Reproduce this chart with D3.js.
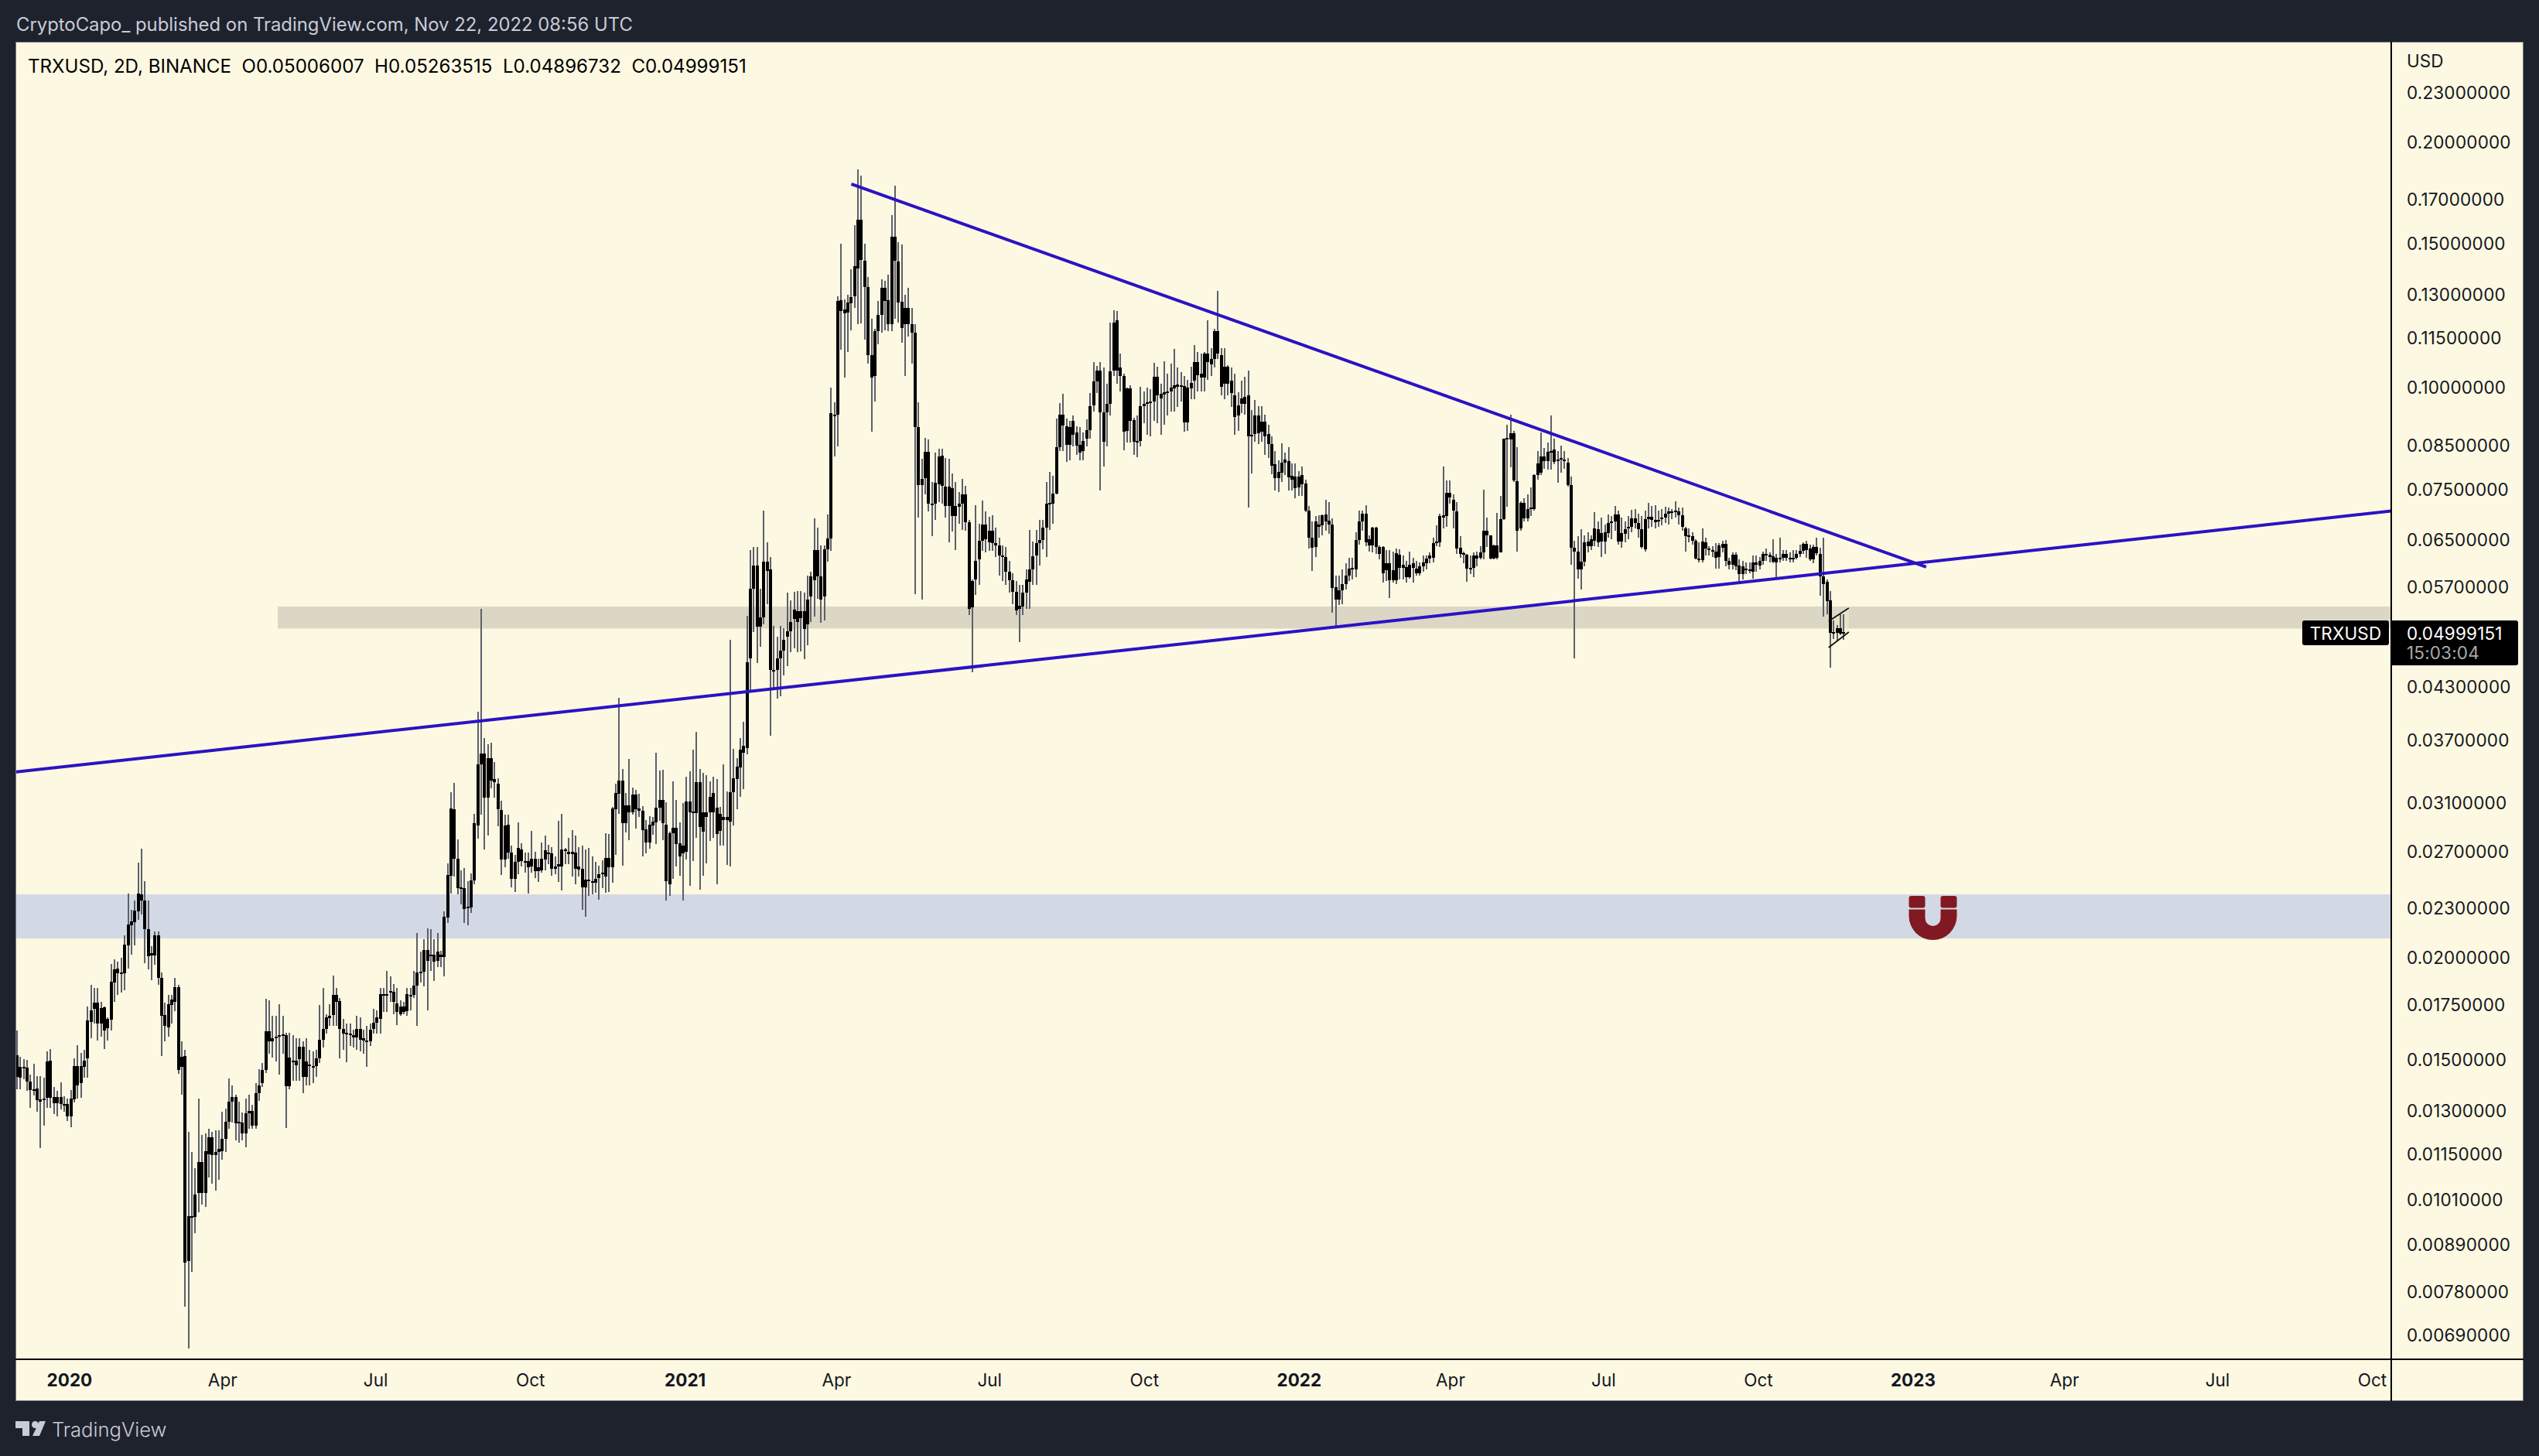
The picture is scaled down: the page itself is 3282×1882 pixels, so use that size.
<!DOCTYPE html>
<html>
<head>
<meta charset="utf-8">
<script src="https://cdn.jsdelivr.net/npm/d3@7"></script>
<style>
html, body { margin: 0; padding: 0; background: #1e222d; overflow: hidden; }
svg { display: block; font-family: Inter, "Liberation Sans", sans-serif; }
</style>
</head>
<body>
<svg id="chart" width="3282" height="1882"></svg>
<script>
// DATA
// 2D bars. One row = [body top, body bottom, high, low], in 1e-5 USD.
// Every candle is black, so open and close can't be told apart.
var barsDec2019 = [
[1518,1428,1627,1380],[1468,1424,1511,1380],[1468,1463,1501,1418],[1465,1410,1498,1373],[1410,1376,1436,1309],[1380,1377,1482,1355],[1383,1338,1430,1293],[1340,1330,1430,1169],
[1343,1338,1425,1244],[1491,1346,1534,1307],[1493,1346,1544,1309],[1348,1326,1388,1286],[1348,1326,1373,1278],[1348,1324,1405,1303],[1324,1316,1353,1293],[1322,1277,1343,1261],
[1343,1277,1376,1239],[1471,1341,1504,1328],[1471,1395,1562,1343],[1471,1403,1526,1346],[1495,1470,1542,1423],[1674,1503,1743,1425],[1723,1668,1853,1594],[1761,1731,1837,1658],
[1761,1660,1837,1582],[1733,1660,1764,1600],[1738,1629,1743,1545],[1680,1639,1689,1582],[1868,1679,1965,1626],[1933,1864,1991,1764],[1937,1911,1976,1799],[1915,1910,1998,1810],
[2074,1914,2130,1823],[2195,2071,2395,1937],[2213,2190,2288,2017],[2285,2210,2349,2069],[2395,2277,2614,2225],[2390,2349,2721,2258],[2351,2168,2480,1969],[2168,2009,2351,1935],
[2024,2011,2063,1877],[2130,2012,2151,1961],[2130,1887,2151,1851],[1887,1698,1915,1515],[1699,1650,1761,1577],[1752,1643,1799,1598],[1777,1749,1799,1658],[1840,1766,1888,1717],
[1840,1457,1851,1439],[1511,1468,1579,1358],[1515,846,1542,747],[964,849,1223,663],[964,961,1155,824],[1024,961,1103,919],[1122,1030,1342,975],[1122,1030,1213,996],
[1157,1030,1217,989],[1203,1148,1233,1074],[1203,1145,1223,1057],[1155,1145,1227,1035],[1164,1155,1227,1068],[1200,1158,1294,1130],[1259,1200,1306,1155],[1332,1259,1420,1233],
[1350,1332,1395,1255],[1350,1252,1357,1194],[1259,1252,1332,1187],[1255,1217,1291,1194],[1289,1217,1342,1171],[1296,1289,1357,1233],[1296,1245,1321,1233],[1364,1245,1403,1233],
[1395,1364,1460,1335],[1457,1403,1484,1387],[1623,1457,1778,1444],[1623,1577,1774,1525],[1592,1577,1696,1509],[1601,1592,1696,1492],[1605,1599,1753,1436],[1610,1607,1696,1525],
[1605,1392,1617,1237],[1509,1392,1617,1379],[1495,1489,1605,1411],[1495,1476,1592,1411],[1555,1500,1592,1411],[1555,1427,1577,1364],[1490,1427,1592,1395],[1479,1476,1541,1395],
[1473,1468,1533,1403],[1505,1473,1541,1427],[1586,1505,1749,1484],[1635,1586,1835,1550],[1690,1635,1705,1614],[1696,1687,1753,1650],[1800,1701,1902,1650],[1800,1764,1835,1650],
[1770,1635,1784,1505],[1635,1614,1683,1541],[1618,1614,1659,1489],[1614,1610,1659,1559],[1605,1596,1632,1550],[1635,1596,1696,1541],[1635,1586,1690,1533],[1592,1581,1632,1525],
[1583,1577,1650,1468],[1632,1577,1659,1559],[1665,1635,1729,1614],[1690,1665,1723,1614],[1804,1683,1835,1614],[1804,1794,1835,1714],[1804,1800,1926,1714],[1820,1818,1896,1764],
[1814,1764,1855,1705],[1758,1714,1835,1654],[1743,1705,1774,1696],[1743,1714,1764,1705],[1804,1718,1835,1696],[1800,1792,1835,1723],[1849,1800,1926,1784],[1916,1849,2141,1650],
[1920,1916,2034,1865],[2041,1920,2105,1845],[2041,1982,2171,1723],[2015,2005,2166,1926],[2015,1978,2105,1871],[2032,1982,2141,1945],[2015,2001,2036,1945],[2244,2001,2279,1896]
];
var barsAug2020 = [
[2524,2237,2609,2204],[3047,2520,3190,2397],[3040,2640,3274,2511],[2643,2432,2792,2388],[2435,2428,2558,2322],[2432,2294,2575,2204],[2309,2296,2481,2192],[2485,2305,2536,2269],
[2922,2485,2998,2458],[3448,2904,4002,2798],[3557,3448,5350,2992],[3557,3143,3717,2714],[3511,3143,3648,2822],[3511,3293,3668,3225],[3307,3277,3473,3143],[3265,3036,3317,2894],
[3032,2634,3113,2526],[2904,2634,2992,2577],[2908,2691,2992,2643],[2691,2499,2741,2435],[2621,2499,2672,2405],[2725,2621,2931,2530],[2710,2624,2761,2583],[2628,2613,2687,2539],
[2624,2577,2689,2397],[2643,2583,2859,2539],[2643,2549,2694,2502],[2577,2549,2643,2476],[2643,2558,2765,2539],[2706,2639,2822,2558],[2691,2681,2751,2605],[2685,2568,2731,2520],
[2587,2568,2658,2530],[2600,2583,2941,2476],[2710,2583,2998,2414],[2710,2706,2725,2605],[2694,2677,2802,2605],[2694,2675,2863,2515],[2691,2568,2822,2458],[2583,2564,2731,2511],
[2571,2435,2741,2286],[2493,2435,2714,2245],[2493,2488,2727,2382],[2479,2472,2658,2388],[2497,2467,2621,2402],[2530,2502,2590,2353],[2543,2534,2632,2432],[2647,2515,2843,2402],
[2647,2577,2831,2405],[3047,2577,3058,2467],[3180,3040,3265,2672],[3293,3171,4158,2998],[3293,2922,3405,2592],[3073,2922,3183,2847],[3073,3014,3504,2786],[3166,3014,3230,2992],
[3166,3040,3206,2879],[3044,3025,3171,2970],[3025,2867,3065,2662],[2873,2769,2948,2685],[2908,2769,2981,2720],[2935,2904,2974,2826],[3051,2930,3562,2757],[3120,3051,3392,2944],
[3120,2922,3397,2782],[2908,2481,3102,2349],[2843,2458,2853,2382],[2884,2839,3288,2497],[2884,2757,3120,2583],[2761,2662,2930,2517],[2741,2685,3095,2349],[3106,2696,3331,2634],
[3106,3010,3385,2449],[3018,3003,3595,2624],[3281,3003,3777,2802],[3281,2888,3405,2419],[3014,2853,3366,2520],[3014,2970,3347,2609],[3148,3014,3288,2777],[3180,3014,3331,2802],
[3054,2831,3307,2458],[2998,2859,3058,2745],[2970,2948,3448,2745],[2970,2948,3195,2599],[3187,2937,4900,2587],[3317,3185,3600,2904],[3425,3312,3511,3040],[3593,3420,3717,3148],
[3635,3567,3886,3213]
];
var barsFeb2021 = [
[4605,3610,5245,3550],[5660,4655,6316,4240],[6050,5660,6365,5010],[6050,5083,6365,4590],[5217,5083,5660,4803],[6106,5217,7056,5122],[6106,5959,6449,5414],[5980,4505,6190,3738],
[4505,4495,5094,4280],[4655,4505,4943,4155],[4758,4655,5094,4177],[4898,4758,5066,4430],[5021,4943,5600,4555],[5150,5021,5476,4730],[5333,5195,5610,4786],[5318,5150,5630,4730],
[5309,5206,5620,4747],[5309,5055,5600,4640],[5488,5122,5880,4831],[5867,5538,5940,5150],[6309,5798,6906,5234],[6309,5860,6727,5507],[5867,5494,6400,5139],[6330,5538,6400,5178],
[6519,6330,6984,6106],[9285,6519,9993,6295],[9260,9250,9580,8216],[12754,9263,12935,8454],[12781,12387,15005,11107],[12441,12319,12822,10265],[12686,12346,12966,11046],[12890,12659,13954,11734],
[14060,12920,15804,12509],[16059,13984,18476,11938],[16059,14334,18180,11980],[14288,13270,15005,11445],[13270,10950,13650,10690],[10950,10265,12142,8813],[11707,10320,11802,9611],[12251,11707,12754,11288],
[13224,12251,13574,11666],[13224,12754,13498,11734],[12781,11938,13726,11707],[15294,11938,16262,11707],[15294,14288,17668,12142],[14258,12686,15056,12006],[12727,11829,14971,11349],[12509,11938,12966,10320],
[12509,11938,13224,11530],[11938,11666,12509,10683],[11666,8939,11938,5580],[8939,7581,9580,6922],[7721,7581,8173,5488],[8328,7738,8667,7390],[8328,7195,8628,7039],[7195,7172,7651,6575],
[7634,7195,8309,6883],[8216,7607,8406,7234],[8234,7564,8406,7195],[7547,7156,8190,6922],[7547,7156,8173,6456],[7521,6945,7842,6649],[7156,6945,7651,6309],[7195,7140,7434,6805],
[7390,7195,7721,6688],[7390,6828,7564,6672],[6828,5352,6883,5262],[5786,5370,5817,4470],[6120,5817,7172,5569],[6484,6155,6805,5724],[6789,6484,7257,6295],[6789,6505,7039,6274],
[6672,6456,6938,6295],[6672,6435,6961,6295],[6435,6400,6727,6190],[6400,6225,6540,5879],[6225,6190,6400,5786],[6190,5945,6365,5724],[5945,5798,6120,5600],[5798,5612,5910,5414],
[5612,5321,5786,5262],[5395,5352,5724,4870],[5600,5383,5724,5262],[5817,5600,5980,5352],[5980,5774,6688,5352],[6211,5980,6470,5724],[6435,6225,6688,5724],[6491,6435,6883,6050],
[6727,6491,6883,6330],[7195,6727,7651,6190],[7211,7179,7869,6688],[7413,7195,7782,6805],[8435,7413,9152,7390],[9263,8435,9557,8357],[9263,8968,9808,8357],[8958,8502,9152,8103],
[8939,8502,9085,8129],[9085,8745,9230,8454],[8794,8473,8958,8260],[8502,8308,8939,8129],[8600,8357,8794,8129],[8861,8648,9133,8454],[9470,8861,9830,8648],[10156,9503,10741,9340],
[10482,10156,10610,9830],[10482,9317,10741,7477],[9317,8580,10562,7999],[9535,9317,10102,8454],[10465,9535,12006,9230],[12006,10482,12414,10320],[12074,10482,12387,10102],[10562,10320,10986,9884],
[10320,8823,10380,8376],[9971,8842,9993,8551],[9971,9085,10047,8551],[9104,8570,9182,8260],[8600,8580,9230,8199],[9481,8600,10015,8454],[9535,9481,9884,9036],[9590,9535,9993,8745],
[9612,9590,9939,8696],[10298,9612,10714,9085],[10298,9775,10592,9036],[9808,9688,10102,8745],[9862,9797,10753,8988],[9884,9830,10380,9230],[9993,9884,10683,9340],[10047,9971,11131,9340],
[10080,10015,10562,9449],[10047,10015,10441,9612],[10026,9055,10320,8823],[9993,9055,10211,8842],[10124,9971,10592,9666],[10744,10189,11264,9666],[10744,10344,11046,9884],[10380,10265,10986,9884],
[10986,10265,11046,9884],[10986,10744,12074,10211],[10828,10659,11167,10320],[11707,10828,11802,10562],[11707,10986,13118,10828],[10950,10015,11167,9775],[10586,10102,11167,9666],[10586,10102,10644,9775],
[10189,9830,10562,9449],[9775,9201,10380,8745]
];
var barsDec2021 = [
[9508,9228,9850,8845],[9678,9548,10188,9298],[9738,9548,10291,9263],[9775,8697,10485,7124],[8742,8710,9368,7840],[9242,8762,9638,8567],[9242,8775,9473,8515],[9075,8810,9473,8580],
[9067,8697,9263,8258],[8762,8515,8999,8193],[8515,8020,8697,7828],[8038,7739,8355,7474],[7876,7739,8128,7446],[8080,7858,8535,7649],[8161,8080,8323,7798],[8116,7757,8450,7474],
[7781,7709,8068,7474],[7769,7518,8068,7307],[7769,7529,7888,7362],[7799,7601,7996,7362],[7619,7057,7709,7030],[7057,6537,7152,6341],[6537,6355,6845,5949],[6845,6365,6948,6198],
[6794,6743,6974,6537],[6974,6768,6985,6589],[6985,6845,7279,6666],[6861,6794,7224,6614],[6794,5675,6912,5290],[5684,5494,5874,5097],[5640,5494,5874,5412],[5742,5640,5984,5421],
[5874,5742,6079,5653],[5998,5874,6174,5786],[6008,5994,6174,5808],[6496,5984,6640,5852],[6845,6496,7057,6412],[7002,6845,7057,6666],[7002,6460,7169,6389],[6511,6403,6589,6293],
[6727,6403,6743,6270],[6727,6365,6743,6246],[6374,6246,6403,6151],[6374,5918,6389,5764],[6079,5962,6317,5786],[6079,5799,6317,5514],[5962,5799,6293,5764],[6260,5799,6341,5742],
[6232,6008,6327,5808],[6055,6008,6222,5808],[6022,5852,6127,5764],[6055,5852,6293,5830],[6079,6008,6174,5764],[5994,5918,6127,5874],[6031,5918,6103,5874],[6103,6031,6222,5940],
[6165,6089,6222,5984],[6222,6165,6270,6079],[6436,6184,6537,6103],[6470,6436,6768,6389],[6948,6460,7002,6365],[6974,6923,7996,6717],[7418,6948,7679,6743],[7418,7318,7679,7196],
[7279,7057,7390,6717],[7041,6341,7224,6246],[6351,6246,6563,6174],[6255,6232,6293,6079],[6236,5994,6246,5772],[6008,5984,6222,5905],[6222,6008,6270,5852],[6222,6160,6293,6031],
[6270,6174,6389,6151],[6666,6279,7485,6151],[6676,6589,6923,6365],[6589,6165,6589,6151],[6403,6165,6412,6151],[6403,6174,7013,6151],[6897,6270,7362,6270],[8645,6897,8645,6871],
[8658,8632,8999,7141],[8789,8632,9249,7978],[8789,7679,8845,7649],[7661,6676,8450,6293],[7211,6706,7252,6666],[7211,6912,7307,6845],[7096,6912,7390,6845],[7124,7096,7529,6948],
[7799,7096,7828,7057],[8056,7799,8355,7709],[8225,7858,8795,7798],[8225,8116,8420,7948],[8336,8116,8550,7918],[8342,8323,9242,7918],[8388,8098,8645,8038],[8161,8148,8355,7630],
[8193,8161,8483,7858],[8161,8116,8355,7948],[8080,7589,8193,7559],[7589,6355,7769,6055],[6355,6284,6486,4651],[6284,5975,6563,5830],[6117,5975,6691,5653],[6460,6117,6589,6031],
[6470,6389,6640,6270],[6511,6389,6589,6317],[6717,6486,7030,6389],[6691,6460,6845,6365],[6625,6470,6923,6198],[6640,6470,6794,6246],[6820,6625,6985,6537],[6845,6820,6948,6511],
[6985,6845,7152,6666],[6985,6470,7057,6412],[6625,6470,6923,6355],[6702,6614,6845,6460],[6743,6717,6948,6511],[6912,6743,7068,6640],[6912,6820,7085,6717],[6810,6691,7002,6537],
[6691,6365,6948,6341],[6897,6327,7057,6293],[6933,6897,7218,6717],[6933,6881,7152,6743],[6871,6830,7163,6717],[6871,6845,7057,6743],[6923,6887,7085,6768],[7002,6923,7141,6820],
[7041,7002,7113,6784],[7046,7041,7085,6897],[7052,7041,7252,6923],[7041,6964,7113,6794],[6964,6743,7113,6666],[6717,6573,6743,6293],[6589,6563,6717,6460],[6563,6486,6640,6412],
[6476,6160,6511,6151],[6160,6136,6460,6103],[6470,6136,6707,6103],[6460,6341,6537,6222],[6341,6317,6389,6222],[6317,6293,6389,6198],[6293,6184,6436,5994],[6403,6189,6436,5994],
[6422,6355,6486,6270],[6422,6127,6501,6031],[6127,6055,6174,5984],[6232,6055,6270,5984],[6232,6031,6270,5962],[6041,5905,6151,5764],[6031,5905,6127,5808],[5994,5962,6103,5896],
[5984,5949,6103,5918],[6103,5940,6222,5830],[6103,6055,6222,5940],[6127,6041,6198,5984],[6246,6127,6293,6055],[6246,6232,6341,6127],[6232,6198,6270,6103],[6212,6117,6511,6079],
[6174,6103,6246,5852],[6174,6151,6546,6103],[6246,6174,6317,6127],[6246,6174,6317,6127],[6184,6165,6270,6103],[6184,6174,6317,6103],[6246,6184,6317,6151],[6303,6246,6412,6198],
[6422,6303,6460,6246],[6422,6317,6486,6174],[6341,6151,6412,6127],[6374,6151,6412,6079],[6374,6260,6537,6222],[6246,5862,6356,5550],[5862,5736,6540,5234],[5774,5468,5812,5272],
[5485,5000,5626,4530],[5011,5000,5178,4912],[5060,5000,5112,4886],[5060,4990,5272,4971],[5006,4999,5263,4897]
];
var firstBar = new Date(Date.UTC(2019, 11, 1));

// price axis ticks and the levels drawn on the chart, in USD
var priceTicks = [0.23, 0.2, 0.17, 0.15, 0.13, 0.115, 0.1, 0.085, 0.075, 0.065, 0.057, 0.043, 0.037, 0.031, 0.027, 0.023, 0.02, 0.0175, 0.015, 0.013, 0.0115, 0.0101, 0.0089, 0.0078, 0.0069];
var timeTicks = ["2020-01-01", "2020-04-01", "2020-07-01", "2020-10-01", "2021-01-01", "2021-04-01", "2021-07-01", "2021-10-01", "2022-01-01", "2022-04-01", "2022-07-01", "2022-10-01", "2023-01-01", "2023-04-01", "2023-07-01", "2023-10-01"];
var timeLabels = ["2020", "Apr", "Jul", "Oct", "2021", "Apr", "Jul", "Oct", "2022", "Apr", "Jul", "Oct", "2023", "Apr", "Jul", "Oct"];
var supportZone = {from: "2020-05-04", top: 0.05385, bottom: 0.0506};
var demandZone = {top: 0.0239, bottom: 0.0211};
var risingLine = [["2019-11-30", 0.03375], ["2023-10-15", 0.0706]];
var fallingLine = [["2021-04-10", 0.1774], ["2023-01-09", 0.0602]];
var flagUpper = [["2022-11-12", 0.05166], ["2022-11-24", 0.0536]];
var flagLower = [["2022-11-12", 0.04796], ["2022-11-24", 0.0501]];
var magnetAt = ["2023-01-13", 0.02236];
var lastClose = 0.04999151;

// SCRIPT BODY
var left = 20, top_ = 54, right = 3262, bottom = 1811, paneRight = 3091, paneBottom = 1757;

var svg = d3.select("#chart");

var day = 864e5;
function utc(s) { return new Date(s + "T00:00:00Z"); }

var x = d3.scaleUtc()
    .domain([firstBar, utc("2023-10-01")])
    .range([22, 3066]);

var y = d3.scaleLog()
    .domain([0.2, 0.0069])
    .range([183, 1725]);

var bars = [].concat(barsDec2019, barsAug2020, barsFeb2021, barsDec2021).map(function(d, i) {
  return {date: new Date(+firstBar + i * 2 * day), top: d[0] * 1e-5, bottom: d[1] * 1e-5, high: d[2] * 1e-5, low: d[3] * 1e-5};
});

// chart frame
svg.append("rect")
    .attr("x", left + 0.5)
    .attr("y", top_ + 0.5)
    .attr("width", right - left - 1)
    .attr("height", bottom - top_ - 1)
    .attr("fill", "#fdf8e1")
    .attr("stroke", "#787b86");

svg.append("defs").append("clipPath")
    .attr("id", "pane")
  .append("rect")
    .attr("x", left + 1)
    .attr("y", top_ + 1)
    .attr("width", paneRight - left - 1)
    .attr("height", paneBottom - top_ - 1);

var g = svg.append("g").attr("clip-path", "url(#pane)");

// zones
g.append("rect")
    .attr("x", x(utc(supportZone.from)))
    .attr("y", y(supportZone.top))
    .attr("width", paneRight - x(utc(supportZone.from)))
    .attr("height", y(supportZone.bottom) - y(supportZone.top))
    .attr("fill", "#dcd7c5");

g.append("rect")
    .attr("x", left)
    .attr("y", y(demandZone.top))
    .attr("width", paneRight - left)
    .attr("height", y(demandZone.bottom) - y(demandZone.top))
    .attr("fill", "#d3d8e5");

// flag fill under the candles
g.append("path")
    .attr("fill", "#f4efc8")
    .attr("fill-opacity", 0.45)
    .attr("d", d3.line().x(function(d) { return x(utc(d[0])); }).y(function(d) { return y(d[1]); })(flagUpper.concat(flagLower.slice().reverse())) + "Z");

// candles, snapped to whole pixels like the chart does
g.selectAll(".wick")
    .data(bars)
  .enter().append("rect")
    .attr("class", "wick")
    .attr("x", function(d) { return Math.round(x(d.date)) - 1; })
    .attr("y", function(d) { return y(d.high); })
    .attr("width", 2)
    .attr("height", function(d) { return y(d.low) - y(d.high); })
    .attr("fill", "#5d606b")
    .attr("shape-rendering", "crispEdges");

g.selectAll(".body")
    .data(bars)
  .enter().append("rect")
    .attr("class", "body")
    .attr("x", function(d) { return Math.round(x(d.date)) - 2; })
    .attr("y", function(d) { return y(d.top); })
    .attr("width", 4)
    .attr("height", function(d) { return Math.max(2, y(d.bottom) - y(d.top)); })
    .attr("fill", "#000")
    .attr("shape-rendering", "crispEdges");

// drawings
var trend = d3.line().x(function(d) { return x(utc(d[0])); }).y(function(d) { return y(d[1]); });

[risingLine, fallingLine].forEach(function(l) {
  g.append("path")
      .attr("d", trend(l))
      .attr("fill", "none")
      .attr("stroke", "#2a13c4")
      .attr("stroke-width", 4);
});

[flagUpper, flagLower].forEach(function(l) {
  g.append("path")
      .attr("d", trend(l))
      .attr("fill", "none")
      .attr("stroke", "#111")
      .attr("stroke-width", 1.8);
});

// magnet icon
var magnet = g.append("g")
    .attr("transform", "translate(" + x(utc(magnetAt[0])) + "," + y(magnetAt[1]) + ")")
    .attr("fill", "#801922");

magnet.append("rect").attr("x", -31).attr("y", -28.5).attr("width", 21).attr("height", 15.5).attr("rx", 3);
magnet.append("rect").attr("x", 10).attr("y", -28.5).attr("width", 21).attr("height", 15.5).attr("rx", 3);
magnet.append("path").attr("d", "M-31,-11H-10V0.5A10,10 0 0 0 10,0.5V-11H31V-2.5A31,31 0 0 1 -31,-2.5Z");

// axes
var yAxis = svg.append("g")
    .attr("transform", "translate(" + paneRight + ",1)")
    .call(d3.axisRight(y).tickValues(priceTicks).tickFormat(d3.format(".8f")).tickSize(0).tickPadding(20));

yAxis.select(".domain").remove();
yAxis.selectAll("text")
    .attr("font-family", "Inter")
    .attr("font-size", 22.5)
    .attr("letter-spacing", 0.15)
    .attr("fill", "#131722");

var xAxis = svg.append("g")
    .attr("transform", "translate(0," + paneBottom + ")")
    .call(d3.axisBottom(x).tickValues(timeTicks.map(utc)).tickFormat(function(d, i) { return timeLabels[i]; }).tickSize(0).tickPadding(19));

xAxis.select(".domain").remove();
xAxis.selectAll("text")
    .attr("font-family", "Inter")
    .attr("font-size", 22.5)
    .attr("fill", "#131722")
    .attr("font-weight", function(d, i) { return /^\d/.test(timeLabels[i]) ? 700 : 400; });

svg.append("line").attr("x1", left).attr("x2", right).attr("y1", paneBottom).attr("y2", paneBottom).attr("stroke", "#000").attr("stroke-width", 2);
svg.append("line").attr("x1", paneRight).attr("x2", paneRight).attr("y1", top_).attr("y2", bottom).attr("stroke", "#000").attr("stroke-width", 2);

// titles
svg.append("text")
    .attr("x", 21).attr("y", 40)
    .attr("font-size", 23.87).attr("fill", "#c8cbd8")
    .text("CryptoCapo_ published on TradingView.com, Nov 22, 2022 08:56 UTC");

svg.append("text")
    .attr("x", 36).attr("y", 94)
    .attr("font-size", 24.1).attr("fill", "#000")
    .attr("xml:space", "preserve")
    .text("TRXUSD, 2D, BINANCE  O0.05006007  H0.05263515  L0.04896732  C0.04999151");

svg.append("text")
    .attr("x", 3111).attr("y", 87)
    .attr("font-size", 22.5).attr("fill", "#131722")
    .text("USD");

// last price labels
var lastY = y(lastClose);

svg.append("path")
    .attr("d", "M" + (paneRight + 1) + "," + (lastY - 16) + "H3252a3,3 0 0 1 3,3V" + (lastY + 39) + "a3,3 0 0 1 -3,3H" + (paneRight + 1) + "Z")
    .attr("fill", "#000");

svg.append("text")
    .attr("x", 3111).attr("y", lastY + 8.5)
    .attr("font-size", 22.5).attr("letter-spacing", 0.15).attr("fill", "#fff")
    .text(d3.format(".8f")(lastClose));

svg.append("text")
    .attr("x", 3111).attr("y", lastY + 34)
    .attr("font-size", 22.5).attr("letter-spacing", 0.15).attr("fill", "#a9a9a9")
    .text("15:03:04");

svg.append("rect")
    .attr("x", 2976).attr("y", lastY - 16)
    .attr("width", 112).attr("height", 32).attr("rx", 3)
    .attr("fill", "#000");

svg.append("text")
    .attr("x", 3032).attr("y", lastY + 8.5)
    .attr("text-anchor", "middle")
    .attr("font-size", 22.5).attr("letter-spacing", 0.15).attr("fill", "#fff")
    .text("TRXUSD");

// TradingView mark at the bottom
var logo = svg.append("g").attr("fill", "#c8cbd8");

logo.append("path").attr("d", "M20,1837H38V1856H29V1846H20Z");
logo.append("circle").attr("cx", 45.5).attr("cy", 1841.5).attr("r", 4.5);
logo.append("path").attr("d", "M51,1837H59L51,1856H42Z");

logo.append("text")
    .attr("x", 67).attr("y", 1857)
    .attr("font-size", 25.6).attr("font-weight", 300)
    .text("TradingView");
</script>
</body>
</html>
